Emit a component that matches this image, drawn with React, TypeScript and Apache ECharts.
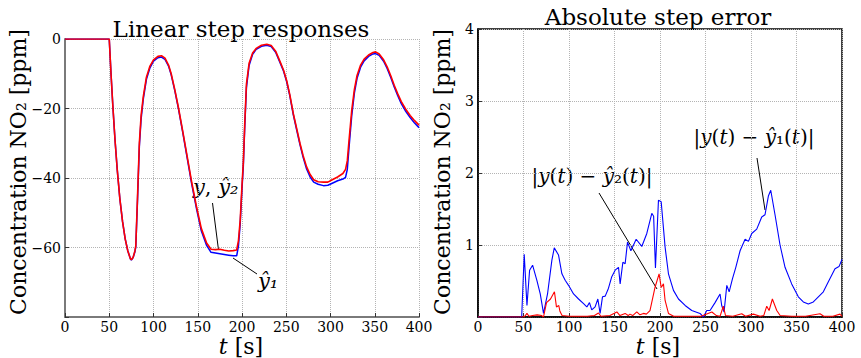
import React, { useEffect, useRef } from "react";
import * as echarts from "echarts";

// ---------- data ----------
// Left panel: linear step responses (time in s, concentration in ppm)
const stepT = [
  0, 50, 52, 54, 56.5, 59, 62, 65, 68, 71, 74, 75, 77, 79, 80, 82, 84, 86, 88.5, 92, 96,
  100, 105, 109, 113, 117, 120, 124, 128, 133, 137.5, 143, 148.8, 154, 160, 165, 170,
  175, 180, 185, 190, 194, 196, 198, 200, 201.5, 203, 205, 208, 212, 216, 222, 228,
  233, 238, 243, 247, 250.5, 254, 258, 262, 265.5, 269, 273, 277, 281, 286, 292, 297,
  302, 308, 314, 317, 319, 321, 324, 327, 330, 334, 338, 343, 348, 351, 355, 360, 364,
  368, 372, 376, 380, 385, 390, 395, 400,
];
const yHat2 = [
  0, 0, -10, -19, -29, -37.5, -46, -52.5, -57.5, -61, -63.3, -63.5, -62.8, -61, -59.5,
  -45, -30, -22, -16.5, -11, -7.8, -6, -5, -4.8, -5.5, -7.5, -10, -14.5, -19.5, -26.5,
  -33, -41, -48.5, -54.5, -58.7, -60.5, -60.6, -60.5, -60.8, -61, -60.9, -60.7, -58,
  -52, -42, -35.5, -25, -13, -7, -4, -2.7, -1.8, -1.5, -1.9, -3.5, -6.5, -9, -12, -16,
  -21.5, -26, -30, -33.5, -36.8, -39, -40.5, -41.1, -41.2, -41.2, -40.5, -39.7, -38.7,
  -37.5, -35, -29, -20.5, -14.5, -10.5, -7.5, -5.8, -4.6, -3.9, -3.7, -4.3, -6, -8,
  -10.5, -13.3, -15.8, -18, -20.2, -22, -23.5, -24.8,
];
const yHat1 = [
  0, 0, -10, -19, -29, -37.5, -46, -52.5, -57.5, -61, -63.3, -63.6, -62.9, -61.2, -59.8,
  -46, -31, -23, -17.2, -11.6, -8.3, -6.4, -5.4, -5.2, -5.9, -7.8, -10.3, -14.8, -19.8,
  -26.8, -33.4, -41.5, -49.1, -55.2, -59.4, -61.4, -61.6, -61.8, -62, -62.2, -62.4,
  -62.4, -59.5, -53, -43, -36.5, -26, -14, -7.6, -4.4, -3, -2.1, -1.8, -2.2, -3.8,
  -6.8, -9.3, -12.3, -16.3, -21.8, -26.4, -30.4, -34, -37.4, -39.7, -41.2, -41.8, -42.2,
  -42.1, -41.5, -40.8, -40.3, -39.8, -37.5, -31, -22, -15.5, -11.3, -8.1, -6.3, -5,
  -4.3, -4.2, -4.7, -6.4, -8.5, -11, -13.8, -16.3, -18.6, -20.8, -22.6, -24.2, -25.5,
];

// Right panel: absolute step errors (ppm)
const err1T = [
  0, 48, 50.8, 53.8, 56.7, 60, 64.7, 68.4, 72, 76.4, 81.2, 83.8, 88.5, 92.2, 95.8, 99.5,
  105, 110.5, 116, 119.6, 122.5, 125, 128.7, 131.7, 134.2, 136.8, 139.8, 143.4, 147,
  150.7, 154.4, 156.2, 159.2, 161.7, 164.3, 168, 173.8, 180, 185.5, 191, 193, 195,
  198.3, 201.3, 205.6, 209.3, 214.8, 220.3, 227.6, 234.9, 244, 247.7, 251.4, 255, 260.5,
  266, 267.8, 270.4, 273.4, 276, 279.6, 283.3, 288, 293.5, 297.2, 300.8, 306.3, 311.8,
  315.4, 319.1, 321.7, 326.4, 331.9, 337.4, 344.7, 352, 357.5, 363, 368.5, 374, 379.5,
  385, 392.3, 396.7, 400,
];
const err1 = [
  0, 0, 0.87, 0.16, 0.65, 0.72, 0.51, 0.32, 0.05, 0.32, 0.79, 0.96, 0.86, 0.6, 0.51, 0.44,
  0.32, 0.25, 0.185, 0.14, 0.2, 0.1, 0.14, 0.25, 0.05, 0.28, 0.29, 0.4, 0.56, 0.65, 0.69,
  0.46, 0.76, 0.74, 1.04, 0.92, 1.08, 0.98, 1.16, 1.44, 1.4, 0.68, 1.62, 1.6, 0.97, 0.6,
  0.37, 0.25, 0.16, 0.09, 0.05, 0.0, 0.09, 0.09, 0.2, 0.32, 0.16, 0.07, 0.44, 0.35, 0.53,
  0.69, 0.92, 1.08, 1.05, 1.16, 1.22, 1.39, 1.42, 1.68, 1.76, 1.42, 1.0, 0.69, 0.46, 0.28,
  0.21, 0.18, 0.21, 0.28, 0.35, 0.49, 0.67, 0.7, 0.8,
];
const err2T = [
  0, 50, 52, 53.8, 56, 60, 65, 70, 72, 75.3, 79.7, 84, 86.2, 88.8, 90, 92.4, 100, 110,
  120, 128, 132.4, 135, 145, 152.6, 156, 161.7, 165, 167, 170, 174.5, 178, 181.8, 185,
  189, 194.5, 199, 201.3, 203.8, 205.6, 209.3, 215, 230, 245, 257, 262, 266, 269.6, 272,
  280, 289.8, 294, 302.6, 310, 314, 317.3, 319.9, 323.5, 328.3, 332, 345, 360, 375.8,
  380, 390, 397.8, 400,
];
const err2 = [
  0, 0, 0.02, 0.05, 0.01, 0.02, 0.03, 0.02, 0.0, 0.2, 0.25, 0.35, 0.14, 0.16, 0.08, 0.02,
  0.01, 0.01, 0.01, 0.02, 0.055, 0.01, 0.02, 0.07, 0.02, 0.05, 0.02, 0.04, 0.02, 0.07,
  0.03, 0.05, 0.04, 0.09, 0.41, 0.6, 0.41, 0.46, 0.23, 0.05, 0.01, 0.01, 0.01, 0.07, 0.02,
  0.01, 0.15, 0.02, 0.01, 0.046, 0.01, 0.04, 0.01, 0.02, 0.15, 0.09, 0.25, 0.09, 0.02,
  0.01, 0.01, 0.046, 0.01, 0.01, 0.04, 0.01,
];

const timeRange = [0, 400];
const timeStep = 50;
const leftRange = [-80, 0];
const leftStep = 20;
const rightRange = [0, 4];
const rightStep = 1;

const FONT = "'DejaVu Serif', serif";

export default function App() {
  const ref = useRef<HTMLDivElement>(null);

  useEffect(() => {
    document.body.style.margin = "0";
    const chart = echarts.init(ref.current!, null, { renderer: "svg" });

    const axisLabel = { color: "#000", fontFamily: FONT, fontSize: 14 };
    const split = { show: true, lineStyle: { color: "#b4b4b4", type: "dotted" as const, width: 1 } };
    const greyLine = { show: true, onZero: false, lineStyle: { color: "#7a7a7a", width: 2 } };
    const blackLine = { show: true, onZero: false, lineStyle: { color: "#000", width: 1.5 } };
    const tick = { show: true, inside: true, length: 4, lineStyle: { color: "#333" } };
    const minus = (v: number) => String(v).replace("-", "\u2212");

    const rich = { i: { fontStyle: "italic" as const, fontFamily: FONT, fontSize: 20 } };
    const rich21 = { i: { fontStyle: "italic" as const, fontFamily: FONT, fontSize: 21 } };
    const rich22 = { i: { fontStyle: "italic" as const, fontFamily: FONT, fontSize: 22 } };

    chart.setOption({
      animation: false,
      backgroundColor: "#fff",
      grid: [
        { left: 65, top: 39, width: 354, height: 278 },
        { left: 478, top: 29, width: 364, height: 288, show: true, borderColor: "#000", borderWidth: 1.5, backgroundColor: "transparent" },
      ],
      xAxis: [
        {
          gridIndex: 0, type: "value", min: timeRange[0], max: timeRange[1], interval: timeStep,
          axisLine: greyLine, axisTick: tick, splitLine: split,
          axisLabel: { ...axisLabel, margin: 3 },
        },
        {
          gridIndex: 1, type: "value", min: timeRange[0], max: timeRange[1], interval: timeStep,
          axisLine: blackLine, axisTick: tick, splitLine: split,
          axisLabel: { ...axisLabel, margin: 3 },
        },
      ],
      yAxis: [
        {
          gridIndex: 0, type: "value", min: leftRange[0], max: leftRange[1], interval: leftStep,
          axisLine: greyLine, axisTick: tick, splitLine: split,
          axisLabel: { ...axisLabel, margin: 4, formatter: (v: number) => (v === leftRange[0] ? "" : minus(v)) },
        },
        {
          gridIndex: 1, type: "value", min: rightRange[0], max: rightRange[1], interval: rightStep,
          axisLine: blackLine, axisTick: tick, splitLine: split,
          axisLabel: { ...axisLabel, margin: 4, formatter: (v: number) => (v === rightRange[0] ? "" : String(v)) },
        },
      ],
      series: [
        {
          type: "line", xAxisIndex: 0, yAxisIndex: 0, showSymbol: false,
          data: stepT.map((t, i) => [t, yHat1[i]]),
          lineStyle: { color: "#0000ff", width: 1.5 }, itemStyle: { color: "#0000ff" },
        },
        {
          type: "line", xAxisIndex: 0, yAxisIndex: 0, showSymbol: false,
          data: stepT.map((t, i) => [t, yHat2[i]]),
          lineStyle: { color: "#ff0000", width: 1.6 }, itemStyle: { color: "#ff0000" },
        },
        {
          type: "line", xAxisIndex: 1, yAxisIndex: 1, showSymbol: false,
          data: err1T.map((t, i) => [t, err1[i]]),
          lineStyle: { color: "#0000ff", width: 1.1 }, itemStyle: { color: "#0000ff" },
        },
        {
          type: "line", xAxisIndex: 1, yAxisIndex: 1, showSymbol: false,
          data: err2T.map((t, i) => [t, err2[i]]),
          lineStyle: { color: "#ff0000", width: 1.1 }, itemStyle: { color: "#ff0000" },
        },
      ],
      graphic: [
        // titles
        { type: "text", x: 241, y: 29, style: { text: "Linear step responses", fontFamily: FONT, fontSize: 23, fill: "#000", textAlign: "center", textVerticalAlign: "middle" } },
        { type: "text", x: 658, y: 17, style: { text: "Absolute step error", fontFamily: FONT, fontSize: 23, fill: "#000", textAlign: "center", textVerticalAlign: "middle" } },
        // y axis names
        { type: "text", x: 18, y: 172, rotation: Math.PI / 2, style: { text: "Concentration NO\u2082 [ppm]", fontFamily: FONT, fontSize: 22, fill: "#000", textAlign: "center", textVerticalAlign: "middle" } },
        { type: "text", x: 442, y: 172, rotation: Math.PI / 2, style: { text: "Concentration NO\u2082 [ppm]", fontFamily: FONT, fontSize: 22, fill: "#000", textAlign: "center", textVerticalAlign: "middle" } },
        // x axis names
        { type: "text", x: 241, y: 346, style: { text: "{i|t} [s]", rich: rich22, fontFamily: FONT, fontSize: 22, fill: "#000", textAlign: "center", textVerticalAlign: "middle" } },
        { type: "text", x: 658, y: 346, style: { text: "{i|t} [s]", rich: rich22, fontFamily: FONT, fontSize: 22, fill: "#000", textAlign: "center", textVerticalAlign: "middle" } },
        // left annotations
        { type: "text", x: 193, y: 187, style: { text: "{i|y}, {i|\u0177\u2082}", rich: rich21, fontFamily: FONT, fontSize: 21, fill: "#000", textAlign: "left", textVerticalAlign: "middle" } },
        { type: "line", shape: { x1: 212.5, y1: 203, x2: 218.5, y2: 250 }, style: { stroke: "#000", lineWidth: 1 } },
        { type: "text", x: 258, y: 281, style: { text: "{i|\u0177\u2081}", rich: rich21, fontFamily: FONT, fontSize: 21, fill: "#000", textAlign: "left", textVerticalAlign: "middle" } },
        { type: "line", shape: { x1: 233, y1: 258, x2: 257, y2: 274 }, style: { stroke: "#000", lineWidth: 1 } },
        // right annotations
        { type: "text", x: 592, y: 176, style: { text: "|{i|y}({i|t}) \u2212 {i|\u0177}\u2082({i|t})|", rich, fontFamily: FONT, fontSize: 20, fill: "#000", textAlign: "center", textVerticalAlign: "middle" } },
        { type: "line", shape: { x1: 599, y1: 193, x2: 657, y2: 289 }, style: { stroke: "#000", lineWidth: 1 } },
        { type: "text", x: 754, y: 137, style: { text: "|{i|y}({i|t}) \u2212 {i|\u0177}\u2081({i|t})|", rich, fontFamily: FONT, fontSize: 20, fill: "#000", textAlign: "center", textVerticalAlign: "middle" } },
        { type: "line", shape: { x1: 757, y1: 158, x2: 765, y2: 210 }, style: { stroke: "#000", lineWidth: 1 } },
      ],
    });

    return () => chart.dispose();
  }, []);

  return <div ref={ref} style={{ width: 861, height: 358 }} />;
}
